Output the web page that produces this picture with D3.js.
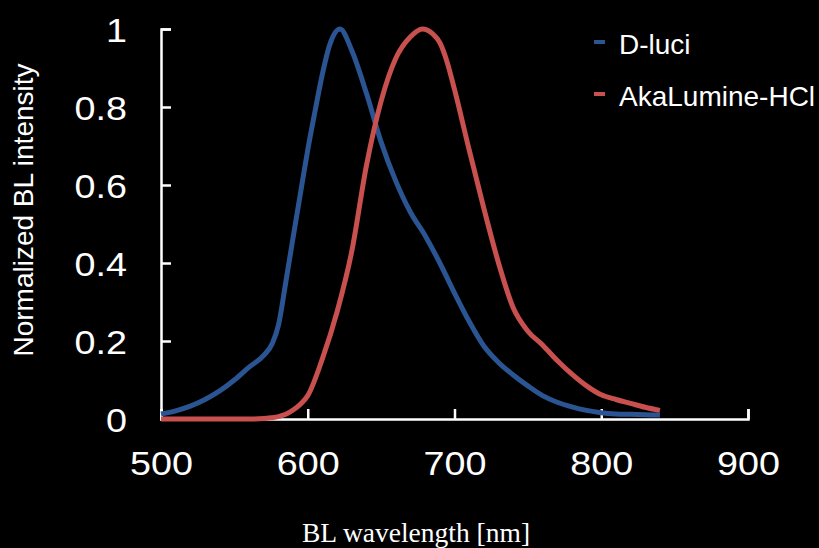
<!DOCTYPE html>
<html>
<head>
<meta charset="utf-8">
<script src="https://cdn.jsdelivr.net/npm/d3@7"></script>
<style>
html, body { margin: 0; padding: 0; background: #000; }
svg { display: block; }
</style>
</head>
<body>
<svg id="chart" width="819" height="548"></svg>
<script>
// ---- data ----
const seriesNames = ["D-luci", "AkaLumine-HCl"];
const seriesColors = ["#2b5592", "#c8504e"];

const wavelengthDluci = [500, 510, 520, 530, 540, 550, 560, 570, 576, 580, 585, 590, 595, 600, 605, 610, 615, 622, 630, 640, 650, 660, 670, 680, 690, 700, 710, 720, 730, 740, 750, 760, 770, 780, 790, 800, 810, 820, 830, 840];
const valuesDluci = [0.013, 0.021, 0.033, 0.05, 0.072, 0.1, 0.133, 0.163, 0.195, 0.24, 0.35, 0.465, 0.578, 0.69, 0.79, 0.885, 0.96, 1.0, 0.945, 0.835, 0.71, 0.61, 0.53, 0.47, 0.40, 0.323, 0.25, 0.187, 0.145, 0.113, 0.085, 0.06, 0.043, 0.031, 0.022, 0.016, 0.013, 0.012, 0.011, 0.01];

const wavelengthAka = [500, 510, 520, 530, 540, 550, 560, 570, 575, 580, 585, 590, 595, 600, 610, 620, 630, 640, 650, 660, 670, 678, 685, 690, 695, 700, 710, 720, 730, 740, 750, 760, 770, 780, 790, 800, 810, 820, 830, 840];
const valuesAka = [0.0, 0.0, 0.0, 0.0, 0.0, 0.0, 0.0, 0.001, 0.003, 0.006, 0.012, 0.023, 0.038, 0.06, 0.155, 0.275, 0.43, 0.65, 0.815, 0.925, 0.98, 1.0, 0.988, 0.965, 0.915, 0.845, 0.69, 0.54, 0.40, 0.285, 0.225, 0.19, 0.15, 0.115, 0.085, 0.062, 0.05, 0.04, 0.03, 0.022];

const xTicks = [500, 600, 700, 800, 900];
const xTickLabels = ["500", "600", "700", "800", "900"];
const yTicks = [0, 0.2, 0.4, 0.6, 0.8, 1];
const yTickLabels = ["0", "0.2", "0.4", "0.6", "0.8", "1"];
const xTitle = "BL wavelength [nm]";
const yTitle = "Normalized BL intensity";

// ---- layout ----
const svg = d3.select("#chart");
const x = d3.scaleLinear().domain([500, 900]).range([161, 748]);
const y = d3.scaleLinear().domain([0, 1]).range([419, 29]);

const white = "#ffffff";
const stretch = 1.16;

function stretchText(sel) {
  sel.each(function () {
    const w = this.getComputedTextLength();
    d3.select(this).attr("textLength", w * stretch).attr("lengthAdjust", "spacingAndGlyphs");
  });
}

// x axis
const xAxis = d3.axisBottom(x)
  .tickValues(xTicks)
  .tickFormat((d, i) => xTickLabels[i])
  .tickSizeInner(-10)
  .tickSizeOuter(-10)
  .tickPadding(33);
const gx = svg.append("g").attr("transform", `translate(0,${y(0)})`).call(xAxis);
gx.selectAll("path, line").attr("stroke", white).attr("stroke-width", 2.5);
gx.selectAll("text")
  .attr("fill", white)
  .style("font-family", "'Liberation Sans', Arial, sans-serif")
  .style("font-size", "32.5px")
  .call(stretchText);

// y axis
const yAxis = d3.axisLeft(y)
  .tickValues(yTicks)
  .tickFormat((d, i) => yTickLabels[i])
  .tickSizeInner(-10)
  .tickSizeOuter(-10)
  .tickPadding(34);
const gy = svg.append("g").attr("transform", `translate(${x(500)},0)`).call(yAxis);
gy.selectAll("path, line").attr("stroke", white).attr("stroke-width", 2.5);
gy.selectAll("text")
  .attr("fill", white)
  .attr("dy", "0.38em")
  .style("font-family", "'Liberation Sans', Arial, sans-serif")
  .style("font-size", "32.5px")
  .call(stretchText);

// lines
const line = d3.line()
  .x(d => x(d[0]))
  .y(d => y(d[1]))
  .curve(d3.curveMonotoneX);

const series = [
  d3.zip(wavelengthDluci, valuesDluci),
  d3.zip(wavelengthAka, valuesAka)
];

svg.append("g").selectAll("path")
  .data(series)
  .join("path")
  .attr("d", line)
  .attr("fill", "none")
  .attr("stroke", (d, i) => seriesColors[i])
  .attr("stroke-width", 5)
  .attr("stroke-linejoin", "round")
  .attr("stroke-linecap", "butt");

// legend
const legend = svg.append("g");
seriesNames.forEach((name, i) => {
  const cy = 42 + i * 52;
  legend.append("rect")
    .attr("x", 594).attr("y", cy - 2)
    .attr("width", 11).attr("height", 4)
    .attr("fill", seriesColors[i]);
  legend.append("text")
    .attr("x", 619).attr("y", cy + 12)
    .attr("fill", white)
    .style("font-family", "'Liberation Sans', Arial, sans-serif")
    .style("font-size", "28px")
    .text(name);
});

// titles
svg.append("text")
  .attr("x", 416).attr("y", 542)
  .attr("text-anchor", "middle")
  .attr("fill", white)
  .style("font-family", "'Liberation Serif', 'Times New Roman', serif")
  .style("font-size", "27.5px")
  .text(xTitle);

svg.append("text")
  .attr("transform", "translate(33,210) rotate(-90)")
  .attr("text-anchor", "middle")
  .attr("fill", white)
  .style("font-family", "'Liberation Sans', Arial, sans-serif")
  .style("font-size", "28px")
  .text(yTitle);
</script>
</body>
</html>
